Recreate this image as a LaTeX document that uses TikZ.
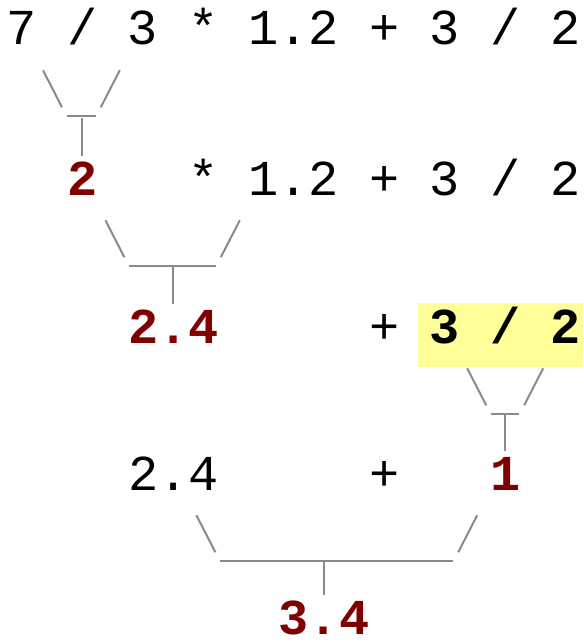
\documentclass[tikz,border=0pt]{standalone}
\usepackage{fontspec}
\usepackage{tikz}
\usetikzlibrary{calc}
\newfontfamily\codefont{Liberation Mono}
\definecolor{resred}{RGB}{128,0,0}
\definecolor{hiyellow}{RGB}{255,255,153}
\definecolor{bargray}{RGB}{138,138,138}
\tikzset{tok/.style={anchor=base, inner sep=0pt, text height=29.25pt, text depth=0pt, font=\fontsize{37.7}{40}\codefont}}
\tikzset{res/.style={tok, font=\fontsize{37.7}{40}\codefont\bfseries, text=resred}}
\tikzset{hl/.style={tok, font=\fontsize{37.7}{40}\codefont\bfseries}}
\tikzset{bar/.style={draw=bargray, line width=1.5pt}}
% left node, x offset, right node, x offset, result node
\newcommand{\joinbr}[6]{%
  \draw[bar] ($(#1.south)+(#2,25)$) -- ++(19,37);
  \draw[bar] ($(#3.south)+(#4,25)$) -- ++(-19,37);
  \draw[bar] ($(#1.south)+(#2+24,71)$) -- ($(#3.south)+(#4-24,71)$);
  \draw[bar] (#5.north) -- ++(0,-#6);}

\begin{document}
\begin{tikzpicture}[x=0.75pt, y=-0.75pt]
  \useasboundingbox (0,0) rectangle (583,642);
  % row 1
  \node (seven)[tok] at (22,45) {7};
  \node (divA)[tok] at (82.4,45) {/};
  \node (three)[tok] at (142.8,45) {3};
  \node (mulA)[tok] at (203.2,45) {*};
  \node (onetwoA)[tok] at (293.8,45) {1.2};
  \node (plusA)[tok] at (384.4,45) {+};
  \node (threeA)[tok] at (444.8,45) {3};
  \node (divB)[tok] at (505.2,45) {/};
  \node (twoA)[tok] at (565.6,45) {2};
  % row 2
  \node (two)[res] at (82.4,195) {2};
  \node (mulB)[tok] at (203.2,195) {*};
  \node (onetwo)[tok] at (293.8,195) {1.2};
  \node (plusB)[tok] at (384.4,195) {+};
  \node (threeB)[tok] at (444.8,195) {3};
  \node (divC)[tok] at (505.2,195) {/};
  \node (twoB)[tok] at (565.6,195) {2};
  % row 3
  \fill[hiyellow] (418,303) rectangle (583,367);
  \node (twofour)[res] at (173.4,343) {2.4};
  \node (plusC)[tok] at (384.4,343) {+};
  \node (half)[hl] at (505.2,343) {3 / 2};
  % row 4
  \node (twofourB)[tok] at (173.4,490) {2.4};
  \node (plusD)[tok] at (384.4,490) {+};
  \node (one)[res] at (505.2,490) {1};
  % row 5
  \node (threefour)[res] at (324,634) {3.4};
  % brackets
  \joinbr{seven}{21}{three}{-23}{two}{38}
  \joinbr{two}{23}{onetwo}{-54}{twofour}{38}
  \joinbr{half}{-38}{half}{38}{one}{38}
  \joinbr{twofourB}{23}{one}{-28}{threefour}{33}
\end{tikzpicture}
\end{document}
